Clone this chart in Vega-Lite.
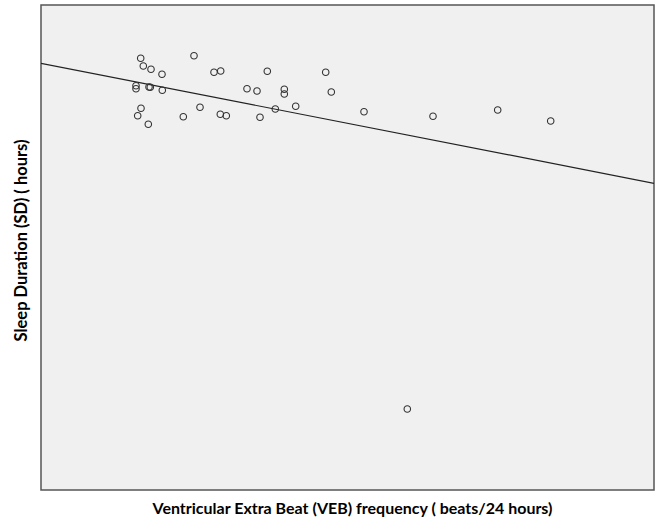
{
  "$schema": "https://vega.github.io/schema/vega-lite/v6.json",
  "width": 613,
  "height": 485,
  "autosize": {"type": "none"},
  "padding": {"left": 41, "top": 5, "right": 2, "bottom": 31},
  "background": "white",
  "config": {
    "view": {"fill": "#f0f0f0", "stroke": "#555555", "strokeWidth": 1.5},
    "axis": {"labels": false, "ticks": false, "grid": false, "domain": false,
      "titleFont": "Lato", "titleFontWeight": "bold", "titleColor": "#000000"}
  },
  "datasets": {
    "points": [
      {"veb": 99.7, "sd": 431.7}, {"veb": 102.3, "sd": 424}, {"veb": 110, "sd": 420.7},
      {"veb": 121, "sd": 415.7}, {"veb": 153, "sd": 434.3}, {"veb": 173, "sd": 417.7},
      {"veb": 179.7, "sd": 419}, {"veb": 226.3, "sd": 418.7}, {"veb": 284.7, "sd": 417.7},
      {"veb": 95, "sd": 404.3}, {"veb": 95, "sd": 401.3}, {"veb": 108, "sd": 403},
      {"veb": 109.3, "sd": 402.7}, {"veb": 121.3, "sd": 399.7}, {"veb": 206, "sd": 401.3},
      {"veb": 216, "sd": 399}, {"veb": 243.3, "sd": 400.7}, {"veb": 243.3, "sd": 396},
      {"veb": 290.3, "sd": 398}, {"veb": 100, "sd": 381.7}, {"veb": 96.7, "sd": 374.3},
      {"veb": 107.3, "sd": 365.7}, {"veb": 142.3, "sd": 373.3}, {"veb": 159, "sd": 382.7},
      {"veb": 179.3, "sd": 375.7}, {"veb": 185.3, "sd": 374.3}, {"veb": 219, "sd": 372.7},
      {"veb": 234.3, "sd": 381}, {"veb": 254.7, "sd": 383.7}, {"veb": 323, "sd": 378.3},
      {"veb": 392, "sd": 373.7}, {"veb": 456.7, "sd": 380}, {"veb": 509.7, "sd": 369},
      {"veb": 366.3, "sd": 81}
    ],
    "fit": [
      {"veb": 0, "sd": 426.7}, {"veb": 613, "sd": 306.7}
    ]
  },
  "layer": [
    {
      "data": {"name": "fit"},
      "mark": {"type": "line", "color": "#222222", "strokeWidth": 1.2, "clip": true},
      "encoding": {
        "x": {"field": "veb", "type": "quantitative", "scale": {"domain": [0, 613], "nice": false, "zero": false},
          "axis": {"title": "Ventricular Extra Beat (VEB) frequency ( beats/24 hours)", "titlePadding": 10, "titleFontSize": 16, "titleX": 311}},
        "y": {"field": "sd", "type": "quantitative", "scale": {"domain": [0, 485], "nice": false, "zero": false},
          "axis": {"title": "Sleep Duration (SD) ( hours)", "titlePadding": 12, "titleFontSize": 16.5, "titleY": 235}}
      }
    },
    {
      "data": {"name": "points"},
      "mark": {"type": "point", "shape": "circle", "filled": false, "size": 42, "stroke": "#333333", "strokeWidth": 1.1, "opacity": 1},
      "encoding": {
        "x": {"field": "veb", "type": "quantitative"},
        "y": {"field": "sd", "type": "quantitative"}
      }
    }
  ]
}
